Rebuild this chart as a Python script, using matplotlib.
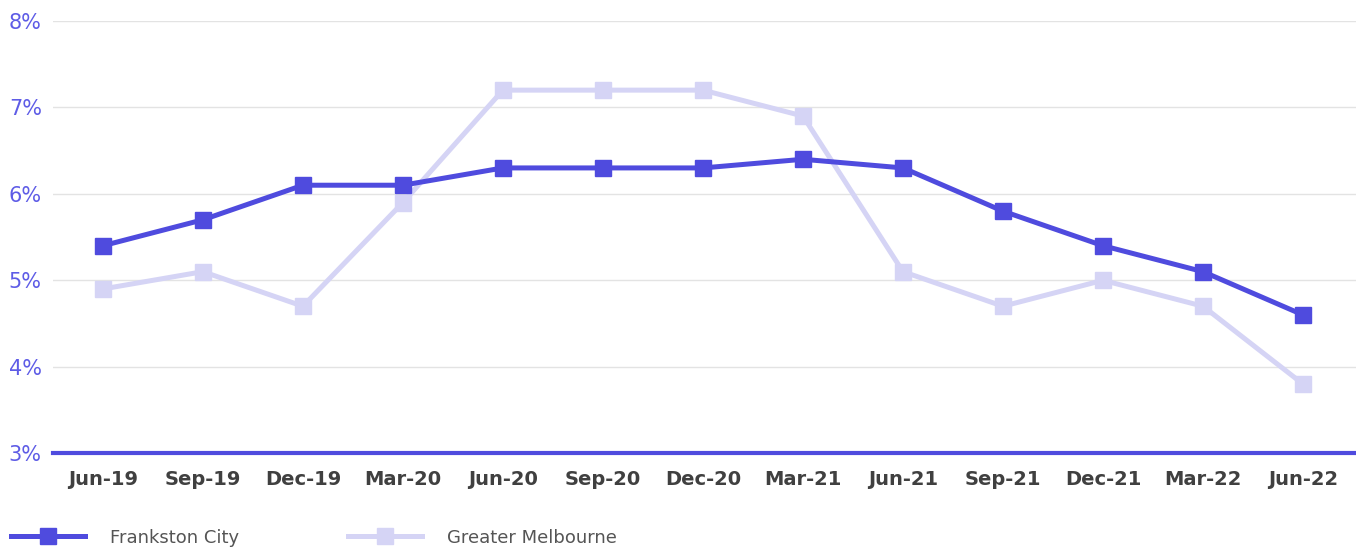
import matplotlib
matplotlib.use('Agg')
import matplotlib.pyplot as plt
from matplotlib.lines import Line2D

quarters = ['Jun-19', 'Sep-19', 'Dec-19', 'Mar-20', 'Jun-20', 'Sep-20', 'Dec-20',
            'Mar-21', 'Jun-21', 'Sep-21', 'Dec-21', 'Mar-22', 'Jun-22']
frankston = [5.4, 5.7, 6.1, 6.1, 6.3, 6.3, 6.3, 6.4, 6.3, 5.8, 5.4, 5.1, 4.6]
melbourne = [4.9, 5.1, 4.7, 5.9, 7.2, 7.2, 7.2, 6.9, 5.1, 4.7, 5.0, 4.7, 3.8]
y_ticks = [3, 4, 5, 6, 7, 8]

dark = '#4F4BDE'
light = '#D5D4F5'

fig = plt.figure(figsize=(13.56, 5.52), dpi=100)
ax = fig.add_axes([0.039, 0.179, 0.961, 0.783])

x = list(range(len(quarters)))
ax.plot(x, melbourne, color=light, lw=3.6, marker='s', ms=11.5, label='Greater Melbourne', zorder=3)
ax.plot(x, frankston, color=dark, lw=3.6, marker='s', ms=11.5, label='Frankston City', zorder=4)

ax.set_xlim(-0.5, 12.53)
ax.set_ylim(3, 8)
ax.set_yticks(y_ticks)
ax.set_yticklabels([f'{t}%' for t in y_ticks])
ax.set_xticks(x)
ax.set_xticklabels(quarters)

ax.grid(axis='y', color='#E3E3E3', lw=1)
ax.set_axisbelow(True)
for s in ['top', 'right', 'left']:
    ax.spines[s].set_visible(False)
ax.spines['bottom'].set_color(dark)
ax.spines['bottom'].set_linewidth(3)
ax.spines['bottom'].set_zorder(5)

ax.tick_params(axis='y', length=0, pad=8, labelsize=15, labelcolor='#5E5CE6')
ax.tick_params(axis='x', length=0, pad=12, labelsize=14, labelcolor='#404040')
for lbl in ax.get_xticklabels():
    lbl.set_fontweight('bold')

handles = [Line2D([], [], color=dark, lw=3.6, marker='s', ms=11.5),
           Line2D([], [], color=light, lw=3.6, marker='s', ms=11.5)]
fig.legend(handles, ['Frankston City', 'Greater Melbourne'], loc='lower left',
           bbox_to_anchor=(-0.004, -0.02), ncol=2, frameon=False, fontsize=13,
           handlelength=4.1, handletextpad=1.4, columnspacing=6.0, labelcolor='#555555')

fig.savefig('out.png', dpi=100)
